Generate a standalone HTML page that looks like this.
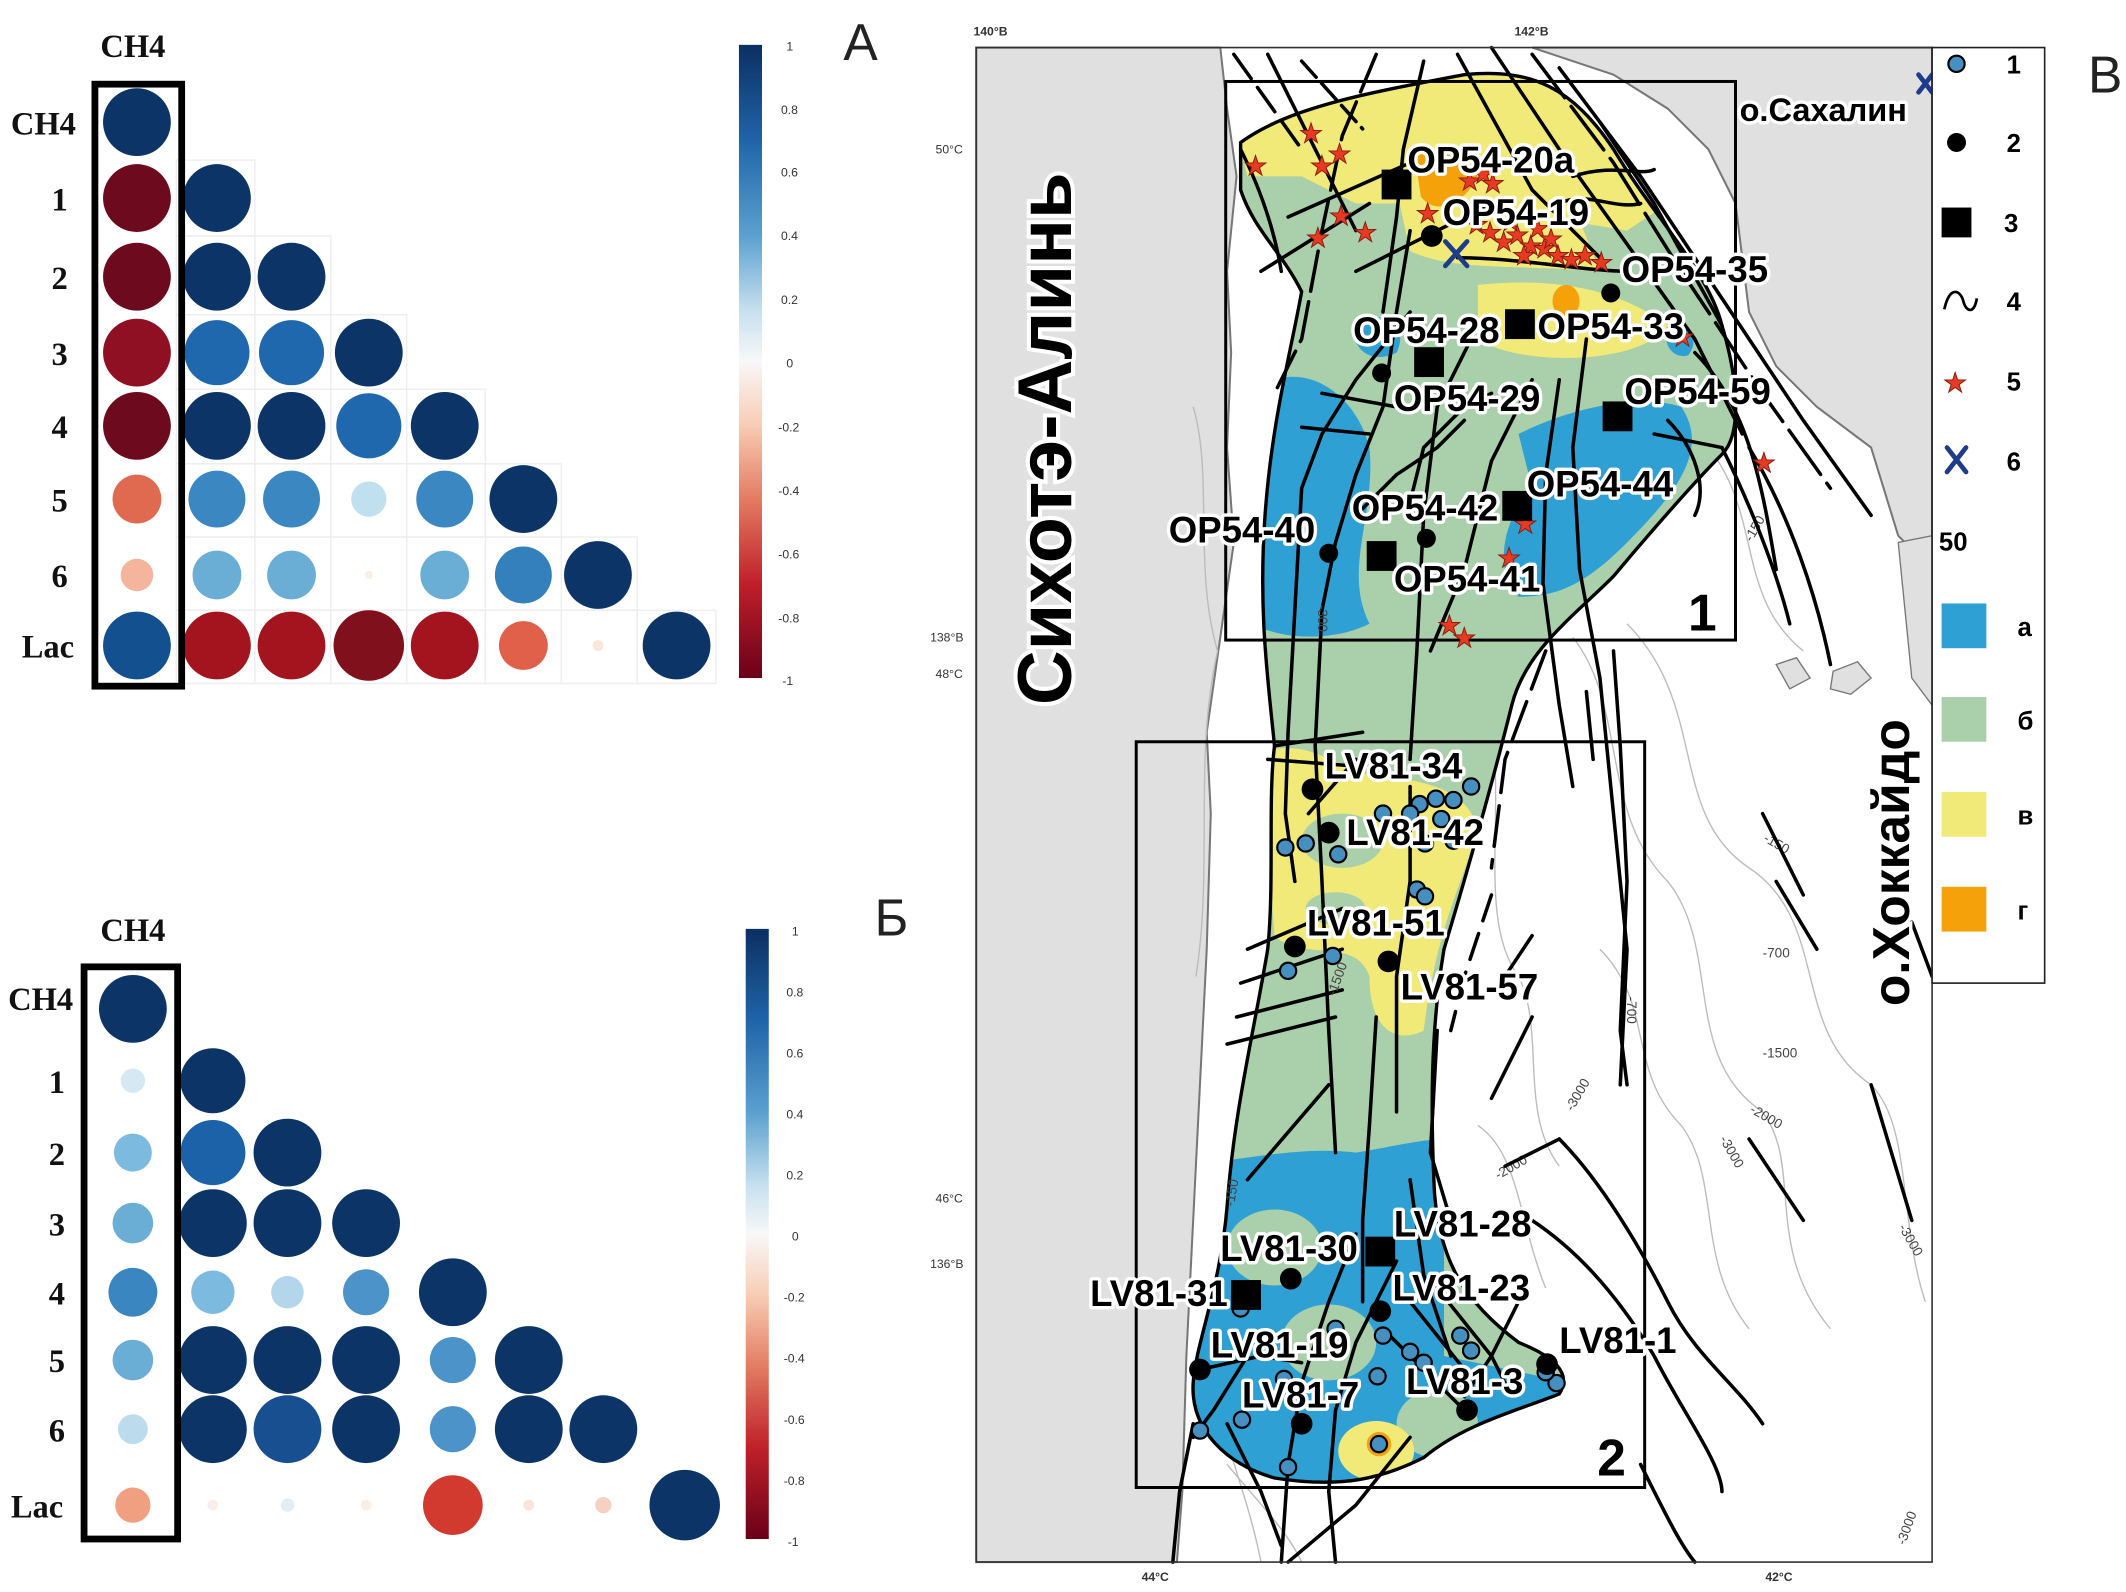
<!DOCTYPE html>
<html><head><meta charset="utf-8"><style>
html,body{margin:0;padding:0;background:#fff;}
svg{display:block;}
.lb{font-family:"Liberation Sans",sans-serif;font-weight:bold;font-size:27px;fill:#000;stroke:#fff;stroke-width:5px;paint-order:stroke;stroke-linejoin:round;}
.tn{font-family:"Liberation Serif",serif;font-weight:bold;font-size:24px;fill:#111;}
.tk{font-family:"Liberation Sans",sans-serif;font-size:9px;fill:#333;}
.lg{font-family:"Liberation Sans",sans-serif;font-weight:bold;font-size:19px;fill:#000;}
.f{fill:none;stroke:#000;stroke-width:2.6;stroke-linecap:round;}
.c{fill:none;stroke:#bbb;stroke-width:1;}
.ct{font-family:"Liberation Sans",sans-serif;font-size:10px;fill:#444;}
</style></head><body>
<svg width="2126" height="1592" viewBox="0 0 1568 1174" xmlns="http://www.w3.org/2000/svg">
<defs>
<linearGradient id="cb" x1="0" y1="0" x2="0" y2="1">
<stop offset="0" stop-color="#0c2f62"/><stop offset="0.15" stop-color="#1f64a8"/><stop offset="0.3" stop-color="#5aa0cf"/><stop offset="0.42" stop-color="#c6e0ef"/><stop offset="0.5" stop-color="#f8f8f8"/><stop offset="0.6" stop-color="#f8cdb5"/><stop offset="0.72" stop-color="#e27a60"/><stop offset="0.85" stop-color="#c0202a"/><stop offset="1" stop-color="#6a0018"/>
</linearGradient>
<clipPath id="clp"><path d="M915,105 C950,80 1000,70 1080,55 C1130,50 1160,65 1190,110 C1220,160 1260,200 1270,240 C1282,280 1285,320 1270,335 C1250,355 1215,395 1190,425 C1160,455 1125,480 1115,520 C1100,580 1080,650 1065,700 C1055,760 1055,820 1058,880 C1062,930 1080,960 1120,990 C1145,1000 1160,1012 1150,1028 C1120,1040 1080,1050 1050,1075 C1020,1090 990,1098 940,1090 C905,1080 878,1055 880,1020 C882,990 900,950 905,890 C910,820 925,760 935,700 C940,650 935,590 940,550 C935,500 928,450 933,380 C938,310 952,260 960,215 C945,185 925,170 915,140 Z"/></clipPath>
</defs>
<rect width="1568" height="1174" fill="#fff"/>

<g>
<text class="tn" x="74" y="42">CH4</text>
<text class="tn" x="8" y="99">CH4</text>
<text class="tn" x="38" y="155">1</text><text class="tn" x="38" y="213">2</text><text class="tn" x="38" y="269">3</text><text class="tn" x="38" y="323">4</text><text class="tn" x="38" y="377">5</text><text class="tn" x="38" y="433">6</text><text class="tn" x="16" y="485">Lac</text>
<g fill="none" stroke="#eee" stroke-width="1">
<rect x="130" y="118" width="58" height="56"/><rect x="130" y="174" width="58" height="58"/><rect x="188" y="174" width="56" height="58"/>
<rect x="130" y="232" width="58" height="55"/><rect x="188" y="232" width="56" height="55"/><rect x="244" y="232" width="56" height="55"/>
<rect x="130" y="287" width="58" height="55"/><rect x="188" y="287" width="56" height="55"/><rect x="244" y="287" width="56" height="55"/><rect x="300" y="287" width="58" height="55"/>
<rect x="130" y="342" width="58" height="54"/><rect x="188" y="342" width="56" height="54"/><rect x="244" y="342" width="56" height="54"/><rect x="300" y="342" width="58" height="54"/><rect x="358" y="342" width="56" height="54"/>
<rect x="130" y="396" width="58" height="54"/><rect x="188" y="396" width="56" height="54"/><rect x="244" y="396" width="56" height="54"/><rect x="300" y="396" width="58" height="54"/><rect x="358" y="396" width="56" height="54"/><rect x="414" y="396" width="56" height="54"/>
<rect x="130" y="450" width="58" height="54"/><rect x="188" y="450" width="56" height="54"/><rect x="244" y="450" width="56" height="54"/><rect x="300" y="450" width="58" height="54"/><rect x="358" y="450" width="56" height="54"/><rect x="414" y="450" width="56" height="54"/><rect x="470" y="450" width="58" height="54"/>
</g>
<circle cx="101" cy="90" r="25" fill="#0d3467"/>
<circle cx="101" cy="146" r="25" fill="#6e0a1e"/><circle cx="160" cy="146" r="25" fill="#0d3467"/>
<circle cx="101" cy="204" r="25" fill="#6e0a1e"/><circle cx="160" cy="204" r="25" fill="#0d3467"/><circle cx="215" cy="204" r="25" fill="#0d3467"/>
<circle cx="101" cy="260" r="25" fill="#8e1022"/><circle cx="160" cy="260" r="24" fill="#1f68ad"/><circle cx="215" cy="260" r="24" fill="#1f68ad"/><circle cx="272" cy="260" r="25" fill="#0d3467"/>
<circle cx="101" cy="314" r="25" fill="#6e0a1e"/><circle cx="160" cy="314" r="25" fill="#0d3467"/><circle cx="215" cy="314" r="25" fill="#0d3467"/><circle cx="272" cy="314" r="24" fill="#1f68ad"/><circle cx="328" cy="314" r="25" fill="#0d3467"/>
<circle cx="101" cy="368" r="18" fill="#e06a50"/><circle cx="160" cy="368" r="21" fill="#3b87c2"/><circle cx="215" cy="368" r="21" fill="#3b87c2"/><circle cx="272" cy="368" r="13" fill="#c0e0f0"/><circle cx="328" cy="368" r="21" fill="#3b87c2"/><circle cx="386" cy="368" r="25" fill="#0d3467"/>
<circle cx="101" cy="424" r="12" fill="#f4b59c"/><circle cx="160" cy="424" r="18" fill="#6aaed6"/><circle cx="215" cy="424" r="18" fill="#6aaed6"/><circle cx="272" cy="424" r="3" fill="#fbeee6"/><circle cx="328" cy="424" r="18" fill="#6aaed6"/><circle cx="386" cy="424" r="21" fill="#3480bd"/><circle cx="441" cy="424" r="25" fill="#0d3467"/>
<circle cx="101" cy="476" r="25" fill="#13508f"/><circle cx="160" cy="476" r="25" fill="#a3141f"/><circle cx="215" cy="476" r="25" fill="#a3141f"/><circle cx="272" cy="476" r="26" fill="#80101c"/><circle cx="328" cy="476" r="25" fill="#a3141f"/><circle cx="386" cy="476" r="18" fill="#e0604a"/><circle cx="441" cy="476" r="4" fill="#fbe6dc"/><circle cx="499" cy="476" r="25" fill="#0d3467"/>
<rect x="70" y="62" width="64" height="444" fill="none" stroke="#000" stroke-width="5"/>
<rect x="545" y="33" width="17" height="467" fill="url(#cb)"/>
<g class="tk"><text x="580" y="37">1</text><text x="576" y="84">0.8</text><text x="576" y="130">0.6</text><text x="576" y="177">0.4</text><text x="576" y="224">0.2</text><text x="580" y="271">0</text><text x="574" y="318">-0.2</text><text x="574" y="365">-0.4</text><text x="574" y="412">-0.6</text><text x="574" y="459">-0.8</text><text x="577" y="505">-1</text></g>
</g>
<text x="622" y="44" font-family="Liberation Sans,sans-serif" font-size="38" fill="#222">А</text>
<text x="645" y="690" font-family="Liberation Sans,sans-serif" font-size="38" fill="#222">Б</text>
<text x="1540" y="68" font-family="Liberation Sans,sans-serif" font-size="38" fill="#222">В</text>

<g>
<text class="tn" x="74" y="694">CH4</text>
<text class="tn" x="6" y="745">CH4</text>
<text class="tn" x="36" y="806">1</text><text class="tn" x="36" y="859">2</text><text class="tn" x="36" y="911">3</text><text class="tn" x="36" y="962">4</text><text class="tn" x="36" y="1012">5</text><text class="tn" x="36" y="1063">6</text><text class="tn" x="8" y="1119">Lac</text>
<circle cx="98" cy="744" r="25" fill="#0d3467"/>
<circle cx="98" cy="797" r="9" fill="#d6e8f3"/><circle cx="157" cy="797" r="24" fill="#0d3467"/>
<circle cx="98" cy="850" r="14" fill="#7dbadf"/><circle cx="157" cy="850" r="24" fill="#1c62a8"/><circle cx="212" cy="850" r="25" fill="#0d3467"/>
<circle cx="98" cy="902" r="15" fill="#6aaed6"/><circle cx="157" cy="902" r="25" fill="#0d3467"/><circle cx="212" cy="902" r="25" fill="#0d3467"/><circle cx="270" cy="902" r="25" fill="#0d3467"/>
<circle cx="98" cy="953" r="18" fill="#3a86c1"/><circle cx="157" cy="953" r="16" fill="#7dbadf"/><circle cx="212" cy="953" r="12" fill="#b3d6ea"/><circle cx="270" cy="953" r="17" fill="#4b93c8"/><circle cx="334" cy="953" r="25" fill="#0d3467"/>
<circle cx="98" cy="1003" r="15" fill="#6aaed6"/><circle cx="157" cy="1003" r="25" fill="#0d3467"/><circle cx="212" cy="1003" r="25" fill="#0d3467"/><circle cx="270" cy="1003" r="25" fill="#0d3467"/><circle cx="334" cy="1003" r="17" fill="#4b93c8"/><circle cx="390" cy="1003" r="25" fill="#0d3467"/>
<circle cx="98" cy="1054" r="11" fill="#bcdcee"/><circle cx="157" cy="1054" r="25" fill="#0d3467"/><circle cx="212" cy="1054" r="25" fill="#174f91"/><circle cx="270" cy="1054" r="25" fill="#0d3467"/><circle cx="334" cy="1054" r="17" fill="#4b93c8"/><circle cx="390" cy="1054" r="25" fill="#0d3467"/><circle cx="445" cy="1054" r="25" fill="#0d3467"/>
<circle cx="98" cy="1110" r="13" fill="#f0a080"/><circle cx="157" cy="1110" r="4" fill="#faeee8"/><circle cx="212" cy="1110" r="5" fill="#e0eef6"/><circle cx="270" cy="1110" r="4" fill="#fbece4"/><circle cx="334" cy="1110" r="22" fill="#d23a30"/><circle cx="390" cy="1110" r="4" fill="#fbe4d8"/><circle cx="445" cy="1110" r="6" fill="#f6d0c0"/><circle cx="505" cy="1110" r="26" fill="#0d3467"/>
<rect x="62" y="713" width="69" height="422" fill="none" stroke="#000" stroke-width="5"/>
<rect x="550" y="685" width="17" height="450" fill="url(#cb)"/>
<g class="tk"><text x="584" y="690">1</text><text x="580" y="735">0.8</text><text x="580" y="780">0.6</text><text x="580" y="825">0.4</text><text x="580" y="870">0.2</text><text x="584" y="915">0</text><text x="578" y="960">-0.2</text><text x="578" y="1005">-0.4</text><text x="578" y="1050">-0.6</text><text x="578" y="1095">-0.8</text><text x="581" y="1140">-1</text></g>
</g>

<g>
<text class="tk" x="718" y="26" font-weight="bold">140°В</text>
<text class="tk" x="1117" y="26" font-weight="bold">142°В</text>
<text class="tk" x="690" y="113">50°С</text>
<text class="tk" x="686" y="473">138°В</text><text class="tk" x="690" y="500">48°С</text>
<text class="tk" x="690" y="887">46°С</text><text class="tk" x="686" y="935">136°В</text>
<text class="tk" x="842" y="1166" font-weight="bold">44°С</text><text class="tk" x="1302" y="1166" font-weight="bold">42°С</text>
<rect x="720" y="35" width="705" height="1117" fill="#fff"/>
<path d="M720,35 L900,35 L905,80 L912,130 L905,200 L908,260 L905,330 L910,400 L900,470 L890,540 L893,600 L890,700 L885,800 L880,900 L875,1000 L872,1100 L868,1152 L720,1152 Z" fill="#e0e0e0" stroke="#777" stroke-width="1.5"/>
<path d="M1130,35 L1425,35 L1425,420 L1400,395 L1380,330 L1340,300 L1310,270 L1290,230 L1280,150 L1260,110 L1230,80 L1190,55 Z" fill="#e0e0e0" stroke="#777" stroke-width="1.5"/>
<path d="M1400,400 L1425,395 L1425,520 L1410,500 Z" fill="#e0e0e0" stroke="#777"/>
<path d="M1310,490 L1325,485 L1335,500 L1320,508 Z" fill="#e0e0e0" stroke="#777"/>
<path d="M1352,495 L1370,488 L1380,500 L1365,512 L1350,508 Z" fill="#e0e0e0" stroke="#777"/>
<g class="c">
<path d="M1160,470 C1200,520 1180,600 1230,650 C1270,700 1240,780 1300,820 C1330,860 1300,920 1350,980"/>
<path d="M1200,460 C1260,520 1230,600 1290,640 C1350,680 1320,760 1380,800 C1410,830 1400,900 1420,960"/>
<path d="M1180,700 C1220,740 1200,790 1240,830 C1270,870 1250,930 1290,980"/>
<path d="M1100,540 C1110,600 1090,680 1120,720 C1140,760 1120,820 1150,860"/>
<path d="M1260,330 C1300,380 1280,440 1330,480"/>
<path d="M880,300 C895,350 880,420 898,480 C880,560 895,640 882,720"/>
<path d="M890,1000 C900,1060 920,1100 930,1152"/><path d="M905,1080 C930,1110 950,1130 960,1152"/>
<path d="M1090,830 C1120,850 1120,900 1140,950"/>
</g>
<g class="ct"><text x="1300" y="706">-700</text><text x="1300" y="780">-1500</text><text x="1290" y="820" transform="rotate(30 1290 820)">-2000</text><text x="1105" y="870" transform="rotate(-30 1105 870)">-2000</text><text x="1160" y="820" transform="rotate(-60 1160 820)">-3000</text><text x="1268" y="840" transform="rotate(60 1268 840)">-3000</text><text x="1400" y="905" transform="rotate(60 1400 905)">-3000</text><text x="1405" y="1140" transform="rotate(-70 1405 1140)">-3000</text><text x="1300" y="620" transform="rotate(30 1300 620)">-150</text><text x="1292" y="400" transform="rotate(-60 1292 400)">-150</text><text x="1200" y="735" transform="rotate(90 1200 735)">-700</text></g>

<path d="M915,105 C950,80 1000,70 1080,55 C1130,50 1160,65 1190,110 C1220,160 1260,200 1270,240 C1282,280 1285,320 1270,335 C1250,355 1215,395 1190,425 C1160,455 1125,480 1115,520 C1100,580 1080,650 1065,700 C1055,760 1055,820 1058,880 C1062,930 1080,960 1120,990 C1145,1000 1160,1012 1150,1028 C1120,1040 1080,1050 1050,1075 C1020,1090 990,1098 940,1090 C905,1080 878,1055 880,1020 C882,990 900,950 905,890 C910,820 925,760 935,700 C940,650 935,590 940,550 C935,500 928,450 933,380 C938,310 952,260 960,215 C945,185 925,170 915,140 Z" fill="#a9cfab"/>
<g clip-path="url(#clp)">
<path d="M900,50 L1200,50 L1230,150 L1200,170 L1140,160 L1060,150 L1000,150 L960,130 L920,130 Z" fill="#f2ea78"/>
<path d="M1030,140 C1070,130 1120,150 1160,150 L1180,200 C1120,195 1070,200 1040,185 Z" fill="#f2ea78"/>
<path d="M1090,210 C1140,205 1190,210 1230,240 C1210,270 1120,270 1090,250 Z" fill="#f2ea78"/>
<ellipse cx="1155" cy="222" rx="10" ry="12" fill="#f5a20a"/>
<path d="M1043,112 C1060,105 1080,115 1090,130 C1080,150 1060,160 1048,145 Z" fill="#f5a20a"/>
<path d="M920,290 C960,260 1000,290 1010,330 C1015,380 990,420 1010,460 C980,475 940,470 925,460 Z" fill="#2fa0d4"/>
<path d="M1000,240 C1020,225 1040,240 1030,260 C1010,270 995,255 1000,240 Z" fill="#2fa0d4"/>
<path d="M1120,320 C1160,300 1210,290 1240,300 C1260,330 1240,360 1200,400 C1170,430 1150,440 1120,440 C1100,420 1110,380 1130,360 Z" fill="#2fa0d4"/>
<path d="M1230,240 C1245,235 1255,250 1245,262 C1235,265 1225,255 1230,240 Z" fill="#2fa0d4"/>
<path d="M870,860 C920,855 960,845 1000,850 C1030,845 1050,840 1065,840 L1065,1000 L1160,1020 L1140,1110 L860,1110 Z" fill="#2fa0d4"/>
<ellipse cx="940" cy="920" rx="35" ry="28" fill="#a9cfab"/>
<ellipse cx="980" cy="990" rx="35" ry="28" fill="#a9cfab"/>
<ellipse cx="1060" cy="1050" rx="30" ry="25" fill="#a9cfab"/>
<ellipse cx="1015" cy="1070" rx="28" ry="22" fill="#f2ea78"/>
<circle cx="1017" cy="1065" r="9" fill="#f5a20a"/>
<path d="M930,555 C960,545 980,560 1000,570 C1050,575 1080,580 1090,610 C1080,650 1060,680 1050,760 C1030,770 1010,760 1010,720 C1000,690 960,710 940,690 Z" fill="#f2ea78"/>
<ellipse cx="990" cy="620" rx="30" ry="20" fill="#a9cfab"/>
<ellipse cx="985" cy="670" rx="22" ry="12" fill="#a9cfab"/>
</g>
<path d="M915,105 C950,80 1000,70 1080,55 C1130,50 1160,65 1190,110 C1220,160 1260,200 1270,240 C1282,280 1285,320 1270,335 C1250,355 1215,395 1190,425 C1160,455 1125,480 1115,520 C1100,580 1080,650 1065,700 C1055,760 1055,820 1058,880 C1062,930 1080,960 1120,990 C1145,1000 1160,1012 1150,1028 C1120,1040 1080,1050 1050,1075 C1020,1090 990,1098 940,1090 C905,1080 878,1055 880,1020 C882,990 900,950 905,890 C910,820 925,760 935,700 C940,650 935,590 940,550 C935,500 928,450 933,380 C938,310 952,260 960,215 C945,185 925,170 915,140 Z" fill="none" stroke="#000" stroke-width="2.5"/>

<g class="f">
<path d="M910,40 L960,110" stroke-dasharray="22 8"/><path d="M935,40 L1000,170"/><path d="M960,45 L1005,95" stroke-dasharray="16 6"/>
<path d="M1015,40 L990,100 L975,170 L960,250 L940,290" stroke-dasharray="30 8"/>
<path d="M1050,45 L1035,110 L1030,160 L1020,230"/>
<path d="M1075,40 L1130,140 L1180,190"/><path d="M1100,35 L1150,110 L1200,180 L1250,250 L1285,320"/>
<path d="M1130,40 L1190,120 L1240,200 L1300,290 L1350,360" stroke-dasharray="40 8"/>
<path d="M1150,50 L1210,130 L1270,220 L1330,310 L1380,380"/>
<path d="M1180,90 L1220,150 L1270,240"/>
<path d="M915,110 C930,140 940,170 945,200"/><path d="M930,200 L1010,150"/><path d="M950,160 L1040,120"/>
<path d="M1000,200 C1040,180 1080,160 1100,150"/><path d="M1075,190 C1120,190 1170,200 1200,200"/>
<path d="M1150,150 C1170,140 1190,155 1210,150"/><path d="M1160,130 C1190,120 1210,130 1220,125"/>
<path d="M1040,230 L1000,280 L975,320 L960,360 L955,450 L950,540 L948,600 L955,650"/>
<path d="M1040,170 L1030,230 L1020,300 L1000,350 L985,400 L975,450 L970,550 L975,650 L980,760 L985,850"/>
<path d="M975,290 L1030,300"/><path d="M960,315 L1010,320"/><path d="M1000,380 L1030,350 L1060,330 L1080,310"/>
<path d="M1040,370 L1050,330 L1080,300 L1100,290"/>
<path d="M1090,240 L1060,300 L1050,380 L1045,480 L1040,560"/>
<path d="M1130,280 L1100,340 L1080,420 L1055,480"/>
<path d="M1150,280 L1140,350 L1138,430 L1150,520 L1160,580"/>
<path d="M1170,250 L1160,330 L1165,420 L1180,500 L1190,600 L1200,700 L1195,800"/>
<path d="M1230,310 C1250,330 1260,360 1250,380"/><path d="M1220,320 L1270,330"/>
<path d="M1270,330 C1290,370 1310,420 1320,460"/>
<path d="M1250,260 C1290,300 1300,360 1310,420"/>
<path d="M1290,330 C1320,380 1340,440 1350,490"/>
<path d="M1170,510 L1175,560"/><path d="M1190,480 L1195,550 L1200,650 L1195,760 L1200,800"/>
<path d="M1140,480 L1110,560 L1100,640" stroke-dasharray="30 10"/>
<path d="M1100,660 L1080,720 L1070,760" stroke-dasharray="20 10"/>
<path d="M1130,690 L1110,720"/><path d="M1130,750 L1100,810"/>
<path d="M1110,860 L1150,840"/>
<path d="M1150,840 C1180,870 1210,920 1230,960 C1250,1000 1280,1020 1300,1050"/>
<path d="M1130,900 C1160,920 1190,950 1220,1000 C1240,1040 1270,1080 1270,1100"/>
<path d="M1310,650 L1340,700"/><path d="M1300,600 L1330,660"/><path d="M1290,840 L1330,900"/><path d="M1380,800 L1410,900"/><path d="M1210,1080 C1230,1120 1240,1140 1250,1152"/>
<path d="M1410,680 L1425,720"/>
<path d="M935,560 L1000,565"/><path d="M940,550 L1005,540"/>
<path d="M920,700 L990,670"/><path d="M915,725 L990,700"/><path d="M912,750 L990,730"/><path d="M905,770 L985,750"/>
<path d="M1000,560 L965,600"/><path d="M980,800 L920,870"/>
<path d="M1040,580 L1040,650 L1030,720 L1030,820"/>
<path d="M1015,750 L1010,830 L1005,900 L1005,960"/>
<path d="M1060,760 L1055,850 L1070,900"/>
<path d="M1040,870 L1050,940 L1070,1000"/>
<path d="M1030,930 L1000,990 L985,1040 L980,1100 L985,1152"/>
<path d="M1020,980 L1060,1020 L1080,1040"/><path d="M1040,960 L1080,1010"/><path d="M1060,950 L1100,1000 L1110,1020"/>
<path d="M1120,960 L1100,1000 L1080,1030"/>
<path d="M1040,1060 L1000,1110 L950,1152"/>
<path d="M885,1010 L930,1000 L960,1005"/><path d="M920,1000 L895,1040 L880,1060"/>
<path d="M905,1050 L930,1100 L945,1140"/>
<path d="M880,1050 L870,1100 L865,1152"/>
<path d="M1000,910 L980,960 L960,1020 L950,1080 L945,1152"/>
</g>
<rect x="904" y="60" width="376" height="412" fill="none" stroke="#000" stroke-width="2.2"/>
<rect x="838" y="547" width="375" height="550" fill="none" stroke="#000" stroke-width="2.2"/>
<text x="1245" y="465" font-family="Liberation Sans,sans-serif" font-weight="bold" font-size="38">1</text>
<text x="1178" y="1088" font-family="Liberation Sans,sans-serif" font-weight="bold" font-size="38">2</text>

<g fill="#e63a22" stroke="#8a1a0a" stroke-width="0.7" font-size="20" font-family="DejaVu Sans,sans-serif">
<text x="917" y="129">★</text><text x="958" y="105">★</text><text x="966" y="129">★</text><text x="979" y="120">★</text><text x="963" y="182">★</text><text x="980" y="166">★</text><text x="998" y="178">★</text><text x="1044" y="164">★</text>
<text x="1075" y="140">★</text><text x="1085" y="135">★</text><text x="1092" y="142">★</text><text x="1080" y="172">★</text><text x="1090" y="178">★</text><text x="1100" y="185">★</text><text x="1110" y="180">★</text><text x="1120" y="188">★</text><text x="1130" y="190">★</text><text x="1140" y="195">★</text><text x="1150" y="198">★</text><text x="1160" y="195">★</text><text x="1172" y="200">★</text><text x="1105" y="170">★</text><text x="1125" y="175">★</text><text x="1095" y="160">★</text><text x="1115" y="195">★</text><text x="1135" y="183">★</text>
<text x="1116" y="393">★</text><text x="1104" y="418">★</text><text x="1060" y="468">★</text><text x="1071" y="477">★</text><text x="1292" y="348">★</text><text x="1232" y="255">★</text>
</g>
<g stroke="#1e3c8c" stroke-width="3.5" stroke-linecap="round"><path d="M1066,178 L1082,196 M1082,178 L1066,196"/><path d="M1415,55 L1425,68 M1425,55 L1415,68"/></g>

<g fill="#4590c0" stroke="#000" stroke-width="1.6">
<circle cx="1059" cy="589" r="6"/><circle cx="1047" cy="593" r="6"/><circle cx="1072" cy="590" r="6"/><circle cx="1085" cy="580" r="6"/><circle cx="1063" cy="604" r="6"/><circle cx="1072" cy="620" r="6"/><circle cx="1051" cy="622" r="6"/><circle cx="963" cy="622" r="6"/><circle cx="948" cy="625" r="6"/><circle cx="987" cy="630" r="6"/><circle cx="1045" cy="656" r="6"/><circle cx="1051" cy="661" r="6"/><circle cx="983" cy="705" r="6"/><circle cx="950" cy="716" r="6"/><circle cx="1020" cy="600" r="6"/><circle cx="1040" cy="600" r="6"/>
<circle cx="985" cy="980" r="6"/><circle cx="1040" cy="997" r="6"/><circle cx="1077" cy="985" r="6"/><circle cx="1085" cy="996" r="6"/><circle cx="1148" cy="1020" r="6"/><circle cx="1140" cy="1012" r="6"/><circle cx="1050" cy="1005" r="6"/><circle cx="1016" cy="1015" r="6"/><circle cx="947" cy="1017" r="6"/><circle cx="885" cy="1055" r="6"/><circle cx="916" cy="1047" r="6"/><circle cx="950" cy="1082" r="6"/><circle cx="1017" cy="1065" r="6"/><circle cx="1020" cy="985" r="6"/><circle cx="915" cy="965" r="6"/><circle cx="1025" cy="240" r="5"/>
</g>
<g fill="#000">
<circle cx="1056" cy="174" r="8"/><circle cx="1188" cy="216" r="7"/><circle cx="1019" cy="275" r="7"/><circle cx="980" cy="408" r="7"/><circle cx="1052" cy="397" r="7"/>
<circle cx="968" cy="582" r="8"/><circle cx="980" cy="614" r="8"/><circle cx="955" cy="698" r="8"/><circle cx="1024" cy="709" r="8"/>
<circle cx="952" cy="943" r="8"/><circle cx="1018" cy="967" r="8"/><circle cx="885" cy="1010" r="8"/><circle cx="960" cy="1050" r="8"/><circle cx="1082" cy="1040" r="8"/><circle cx="1141" cy="1006" r="8"/>
</g>
<g fill="#000">
<rect x="1019" y="125" width="22" height="22"/><rect x="1110" y="228" width="22" height="22"/><rect x="1043" y="256" width="22" height="22"/><rect x="1182" y="296" width="22" height="22"/><rect x="1108" y="362" width="22" height="22"/><rect x="1008" y="399" width="22" height="22"/>
<rect x="1007" y="912" width="22" height="22"/><rect x="908" y="944" width="22" height="22"/>
</g>
<g class="lb">
<text x="1038" y="127">OP54-20a</text><text x="1064" y="166">OP54-19</text><text x="1196" y="208">OP54-35</text>
<text x="998" y="253">OP54-28</text><text x="1134" y="250">OP54-33</text><text x="1028" y="303">OP54-29</text><text x="1198" y="298">OP54-59</text>
<text x="1126" y="366">OP54-44</text><text x="997" y="384">OP54-42</text><text x="862" y="400">OP54-40</text><text x="1028" y="436">OP54-41</text>
<text x="977" y="574">LV81-34</text><text x="993" y="623">LV81-42</text><text x="964" y="690">LV81-51</text><text x="1033" y="737">LV81-57</text>
<text x="1028" y="912">LV81-28</text><text x="900" y="930">LV81-30</text><text x="804" y="963">LV81-31</text><text x="1027" y="959">LV81-23</text>
<text x="1150" y="998">LV81-1</text><text x="893" y="1001">LV81-19</text><text x="1037" y="1028">LV81-3</text><text x="916" y="1038">LV81-7</text>
<text x="1283" y="89" style="font-size:24px">о.Сахалин</text>
</g>
<text transform="translate(790,520) rotate(-90)" font-family="Liberation Sans,sans-serif" font-weight="bold" font-size="56" fill="#000" stroke="#fff" stroke-width="6" paint-order="stroke">Сихотэ-Алинь</text>
<text transform="translate(1408,742) rotate(-90)" font-family="Liberation Sans,sans-serif" font-weight="bold" font-size="38" fill="#000" stroke="#fff" stroke-width="5" paint-order="stroke">о.Хоккайдо</text>
<text class="ct" transform="translate(972,446) rotate(90)">-300</text>
<text class="ct" transform="translate(985,735) rotate(-70)">-1500</text>
<text class="ct" transform="translate(910,890) rotate(-80)">-150</text>
<rect x="720" y="35" width="705" height="1117" fill="none" stroke="#333" stroke-width="1.2"/>
</g>

<g>
<rect x="1425" y="35" width="83" height="690" fill="#fff" stroke="#222" stroke-width="1.2"/>
<circle cx="1443" cy="47" r="6" fill="#4590c0" stroke="#000" stroke-width="1.6"/><text class="lg" x="1480" y="54">1</text>
<circle cx="1443" cy="105" r="7" fill="#000"/><text class="lg" x="1480" y="112">2</text>
<rect x="1432" y="153" width="22" height="22" fill="#000"/><text class="lg" x="1478" y="171">3</text>
<path d="M1434,228 C1438,210 1446,214 1448,222 C1450,230 1456,232 1458,220" fill="none" stroke="#000" stroke-width="2"/><text class="lg" x="1480" y="229">4</text>
<text x="1433" y="289" font-size="20" fill="#e63a22" stroke="#8a1a0a" stroke-width="0.7" font-family="DejaVu Sans,sans-serif">★</text><text class="lg" x="1480" y="288">5</text>
<path d="M1436,330 L1450,348 M1450,330 L1436,348" stroke="#1e3c8c" stroke-width="3.5" stroke-linecap="round"/><text class="lg" x="1480" y="347">6</text>
<text class="lg" x="1430" y="406">50</text>
<rect x="1432" y="445" width="33" height="33" fill="#2fa0d4"/><text class="lg" x="1488" y="469">а</text>
<rect x="1432" y="514" width="33" height="33" fill="#a9cfab"/><text class="lg" x="1488" y="538">б</text>
<rect x="1432" y="584" width="33" height="33" fill="#f2ea78"/><text class="lg" x="1488" y="608">в</text>
<rect x="1432" y="654" width="33" height="33" fill="#f5a20a"/><text class="lg" x="1488" y="678">г</text>
</g>
</svg>
</body></html>
